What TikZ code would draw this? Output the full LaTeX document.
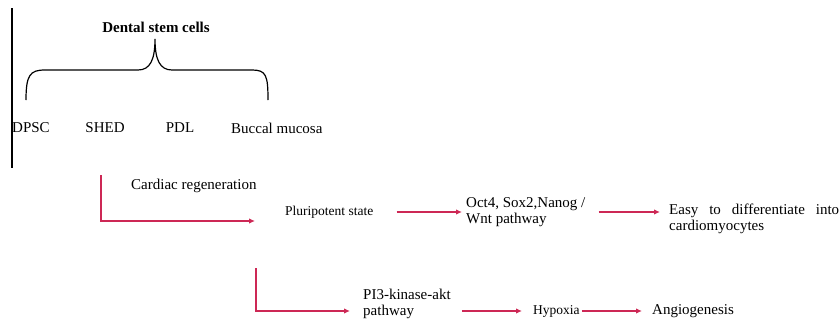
\documentclass[tikz,border=0pt]{standalone}
\usepackage{fontspec}
\setmainfont{Liberation Serif}
\usetikzlibrary{arrows.meta}
\definecolor{flowred}{RGB}{205,40,85}

\begin{document}
\begin{tikzpicture}
[x=1pt, y=-1pt, every node/.style={inner sep=0pt, font=\fontsize{15}{16}\selectfont},
 lbl/.style={anchor=west, align=left},
 narrow/.style={font=\fontsize{13.5}{15}\selectfont},
 flow/.style={line width=1.2pt, color=flowred, -{Latex[length=6pt,width=5.5pt]}}]
\useasboundingbox (0,0) rectangle (839,327);
\draw [line width=1.2pt] (12,8) -- (12,168);
\node (dsc) [font=\bfseries\fontsize{15}{16}\selectfont] at (156,27) {Dental stem cells};
% brace
\draw [line width=1.2pt] (26,100) .. controls (26,75) and (30,70) .. (45,70) -- (138,70) .. controls (150,70) and (155,60) .. (155,39) .. controls (155,60) and (160,70) .. (172,70) -- (252,70) .. controls (266,70) and (268,75) .. (268,100);
\node (dpsc) at (31,128) {DPSC};
\node (shed) at (105,128) {SHED};
\node (pdl) at (180,128) {PDL};
\node (buccal) [lbl] at (231,128) {Buccal mucosa};
\coordinate (c1) at (101,175);
\coordinate (c3) at (256,268);
\node (cardiac) [lbl] at (131,186) {Cardiac regeneration};
\node (pluri) [lbl, narrow] at (285,212) {Pluripotent state};
\node (oct) [lbl] at (466,212) {Oct4, Sox2,Nanog /\\Wnt pathway};
\node (easy) [lbl, align=justify, text width=170pt] at (669,219) {Easy to differentiate into\linebreak cardiomyocytes};
\node (pi3) [lbl] at (363,304) {PI3-kinase-akt\\pathway};
\node (hyp) [lbl, narrow] at (533,311) {Hypoxia};
\node (ang) [lbl] at (652,311) {Angiogenesis};
\draw [flow, shorten >=30pt] (c1) |- ([yshift=-9pt]pluri.west);
\draw [flow, shorten <=23pt, shorten >=4pt] (pluri.east) -- (oct.west);
\draw [flow, shorten <=13pt, shorten >=9pt] (oct.east) -- ([yshift=7pt]easy.west);
\draw [flow, shorten >=13pt] (c3) |- ([yshift=-7pt]pi3.west);
\draw [flow, shorten <=11pt, shorten >=11pt] ([yshift=-7pt]pi3.east) -- (hyp.west);
\draw [flow, shorten <=2pt, shorten >=10pt] (hyp.east) -- (ang.west);
\end{tikzpicture}
\end{document}
